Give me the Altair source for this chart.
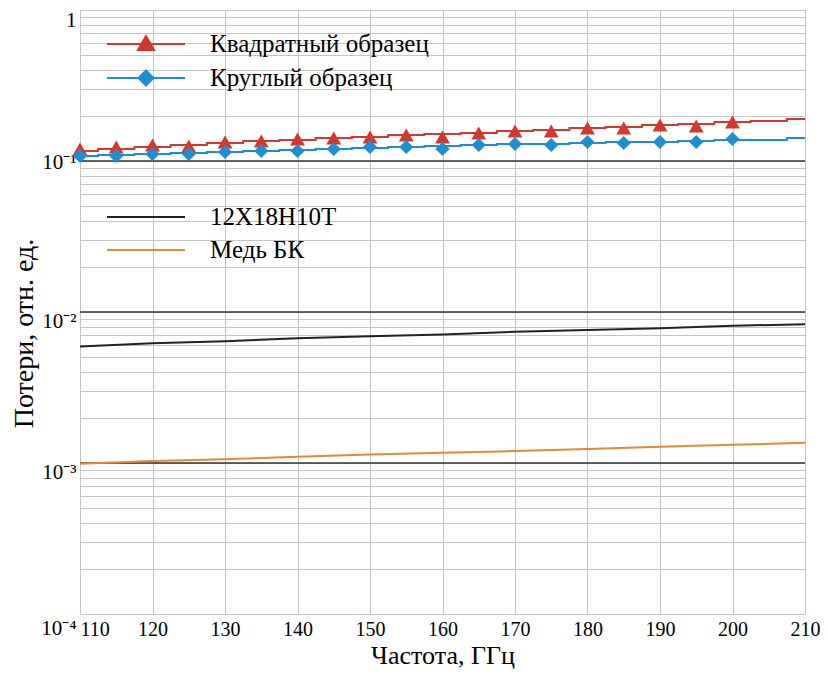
import altair as alt
import pandas as pd

# ---- data ----
freq_line = [110, 115, 120, 125, 130, 135, 140, 145, 150, 155, 160,
             165, 170, 175, 180, 185, 190, 195, 200, 205, 210]
square_line = [0.1165, 0.1201, 0.1238, 0.1276, 0.1315, 0.1357, 0.1378, 0.1420,
               0.1442, 0.1487, 0.1510, 0.1533, 0.1580, 0.1604, 0.1654, 0.1679,
               0.1731, 0.1758, 0.1812, 0.1840, 0.1897]
round_line = [0.1079, 0.1096, 0.1113, 0.1130, 0.1147, 0.1165, 0.1183, 0.1201,
              0.1219, 0.1238, 0.1257, 0.1276, 0.1296, 0.1296, 0.1316, 0.1336,
              0.1336, 0.1357, 0.1378, 0.1378, 0.1420]

freq_marker = [110, 115, 120, 125, 130, 135, 140, 145, 150, 155,
               160, 165, 170, 175, 180, 185, 190, 195, 200]
square_marker = [0.1201, 0.1238, 0.1276, 0.1257, 0.1336, 0.1357, 0.1399, 0.1420,
                 0.1442, 0.1487, 0.1442, 0.1533, 0.1580, 0.1580, 0.1654, 0.1654,
                 0.1731, 0.1705, 0.1812]
round_marker = [0.1079, 0.1079, 0.1113, 0.1113, 0.1147, 0.1165, 0.1165, 0.1201,
                0.1238, 0.1238, 0.1201, 0.1276, 0.1296, 0.1276, 0.1336, 0.1316,
                0.1336, 0.1336, 0.1399]

freq_mat = [110, 120, 130, 140, 150, 160, 170, 180, 190, 200, 210]
steel = [0.0059, 0.0062, 0.0064, 0.0067, 0.0069, 0.0071, 0.0074, 0.0076, 0.0078, 0.0081, 0.0083]
copper = [0.00099, 0.00103, 0.00106, 0.00110, 0.00114, 0.00117, 0.00120, 0.00124, 0.00128, 0.00132, 0.00136]

x_ticks = [110, 120, 130, 140, 150, 160, 170, 180, 190, 200, 210]
inner_decades = [1e-3, 1e-2, 1e-1]
y_grid = sorted(set([m * d for d in [1e-4, 1e-3, 1e-2, 1e-1] for m in range(1, 10)] + [1.0]))

S1, S2 = "Квадратный образец", "Круглый образец"
M1, M2 = "12Х18Н10Т", "Медь БК"
RED, BLUE = "#d4372f", "#1b8fd2"
BLACK, ORANGE = "#222222", "#e08a35"

FONT = "Liberation Serif"

xscale = alt.Scale(type="linear", domain=[110, 210], nice=False, zero=False)
yscale = alt.Scale(type="log", domain=[1e-4, 1], nice=False)

label_expr = ("datum.value==1?'1':datum.value==0.1?'10⁻¹':datum.value==0.01?'10⁻²':"
              "datum.value==0.001?'10⁻³':datum.value==0.0001?'10⁻⁴':''")

x_enc = alt.X("f:Q", scale=xscale, axis=alt.Axis(
    values=x_ticks, title="Частота, ГГц", grid=True, gridColor="#c4c4c4", gridWidth=1,
    ticks=False, domain=False, labelFont=FONT, labelFontSize=20, labelColor="black",
    labelPadding=5, titleFont=FONT, titleFontSize=26, titleFontWeight="normal",
    titleColor="black", titlePadding=3, labelFlush=False,
    labelAlign={"condition": {"test": "datum.value==110", "value": "left"}, "value": "center"}))
y_enc = alt.Y("v:Q", scale=yscale, axis=alt.Axis(
    values=y_grid, title="Потери, отн. ед.", grid=True, gridColor="#c4c4c4", gridWidth=1,
    ticks=False, domain=False, labelExpr=label_expr, labelFont=FONT, labelFontSize=21,
    labelColor="black", labelPadding=4, labelFlush=False,
    labelOffset={"condition": [
        {"test": "datum.value==1", "value": 10},
        {"test": "datum.value==0.1", "value": 1},
        {"test": "datum.value==0.0001", "value": 14},
    ], "value": 9},
    titleFont=FONT, titleFontSize=28, titleFontWeight="normal", titleColor="black",
    titlePadding=2, titleY=323))
x_plain = alt.X("f:Q", scale=xscale)
y_plain = alt.Y("v:Q", scale=yscale)

tri_path = "M-3.9,0H3.9M0,-0.8L0.8,0.6L-0.8,0.6Z"
dia_path = "M-3.9,0H3.9M0,-0.75L0.75,0L0,0.75L-0.75,0Z"
line_path = "M-3.9,0H3.9"


def legend(y, path, color):
    return alt.Legend(
        title=None, orient="none", legendX=0, legendY=y,
        symbolType=path, symbolSize=400, symbolOffset=53.5,
        symbolFillColor=color, symbolStrokeColor=color, symbolStrokeWidth=2,
        symbolOpacity=1,
        labelOffset=51.5, labelFont=FONT, labelFontSize=25,
        labelColor="black", labelLimit=400, padding=0)


def series_lines(freqs, vals, name, color, leg, interp):
    df = pd.DataFrame({"f": freqs, "v": vals, "s": name})
    return alt.Chart(df).mark_line(interpolate=interp, strokeWidth=2, color=color).encode(
        x=x_plain, y=y_plain,
        color=alt.Color("s:N", scale=alt.Scale(domain=[name], range=[color]), legend=leg),
    )


def series_points(freqs, vals, name, color, shape, size):
    df = pd.DataFrame({"f": freqs, "v": vals, "s": name})
    return alt.Chart(df).mark_point(filled=True, opacity=1, size=size,
                                    shape=shape, color=color).encode(x=x_plain, y=y_plain)


grid_df = pd.DataFrame({"f": [110, 210], "v": [1e-4, 1.0]})
axes_layer = alt.Chart(grid_df).mark_point(opacity=0).encode(x=x_enc, y=y_enc)

major = pd.DataFrame({"v": inner_decades})
major_rules = alt.Chart(major).mark_rule(color="#333333", strokeWidth=1.5).encode(y=y_plain)

layers = [
    axes_layer,
    major_rules,
    series_lines(freq_mat, steel, M1, BLACK, legend(194.5, line_path, BLACK), "linear"),
    series_lines(freq_mat, copper, M2, ORANGE, legend(227.5, line_path, ORANGE), "linear"),
    series_lines(freq_line, square_line, S1, RED, legend(21.5, tri_path, RED), "step"),
    series_lines(freq_line, round_line, S2, BLUE, legend(55.5, dia_path, BLUE), "step"),
    series_points(freq_marker, square_marker, S1, RED, "triangle-up", 220),
    series_points(freq_marker, round_marker, S2, BLUE, "diamond", 200),
]

chart = alt.layer(*layers).resolve_scale(color="independent").properties(
    width=725, height=604,
    autosize=alt.AutoSizeParams(type="none"),
    padding={"left": 72, "top": 2, "right": 15, "bottom": 57},
).configure_view(
    stroke="#111111", strokeWidth=1.5
).configure(background="white")

chart.save("out.html", embed_options={"renderer": "svg", "actions": False})
